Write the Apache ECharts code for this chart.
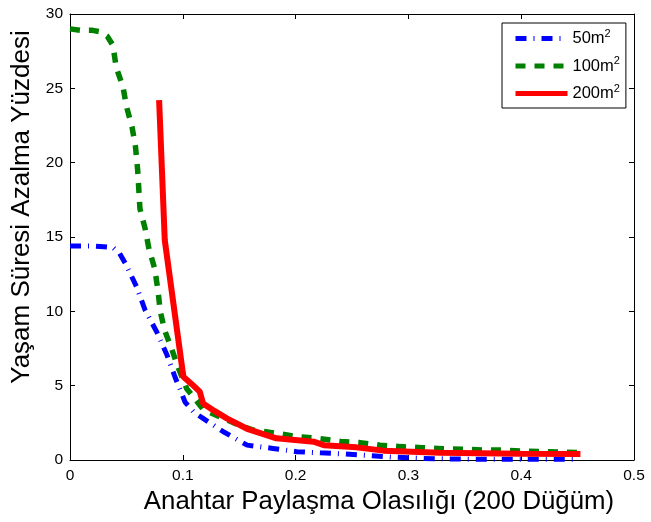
<!DOCTYPE html>
<html>
<head>
<meta charset="utf-8">
<script src="https://cdn.jsdelivr.net/npm/echarts@6/dist/echarts.min.js"></script>
<style>html,body{margin:0;padding:0;background:#fff}#c{width:651px;height:522px}</style>
</head>
<body>
<div id="c"></div>
<script>
var xTicks = [0, 0.1, 0.2, 0.3, 0.4, 0.5];
var yTicks = [0, 5, 10, 15, 20, 25, 30];

var x50 = [0, 0.01, 0.02, 0.03, 0.038, 0.044, 0.05, 0.059, 0.0665, 0.077, 0.086, 0.093, 0.102, 0.11, 0.118, 0.136, 0.157, 0.18, 0.201, 0.222, 0.244, 0.266, 0.29, 0.312, 0.334, 0.36, 0.4, 0.447];
var y50 = [14.4, 14.4, 14.4, 14.35, 14.3, 13.9, 13.1, 11.65, 10.1, 8.6, 7.06, 5.6, 3.9, 3.2, 2.8, 1.9, 1.0, 0.78, 0.56, 0.48, 0.4, 0.29, 0.18, 0.11, 0.07, 0.05, 0.05, 0.05];

var x100 = [0, 0.01, 0.02, 0.027, 0.033, 0.038, 0.041, 0.047, 0.05, 0.055, 0.058, 0.06, 0.062, 0.0665, 0.07, 0.075, 0.078, 0.08, 0.084, 0.09, 0.096, 0.1035, 0.11, 0.118, 0.133, 0.145, 0.163, 0.183, 0.201, 0.219, 0.24, 0.257, 0.275, 0.293, 0.312, 0.33, 0.348, 0.367, 0.384, 0.4, 0.42, 0.45];
var y100 = [29, 28.9, 28.9, 28.8, 28.5, 27.9, 26.4, 25.1, 23.8, 22.4, 21.1, 19.5, 16.9, 15.6, 14.2, 12.9, 11.4, 10.0, 8.7, 7.5, 6.2, 4.8, 4.2, 3.4, 2.9, 2.5, 2.0, 1.8, 1.57, 1.46, 1.25, 1.17, 1.0, 0.9, 0.83, 0.76, 0.72, 0.67, 0.67, 0.6, 0.56, 0.5];

var x200 = [0.079, 0.084, 0.1005, 0.108, 0.115, 0.118, 0.128, 0.139, 0.157, 0.183, 0.216, 0.225, 0.254, 0.278, 0.328, 0.4, 0.4525];
var y200 = [24.2, 14.8, 5.6, 5.1, 4.6, 3.8, 3.3, 2.8, 2.1, 1.46, 1.23, 1.0, 0.85, 0.63, 0.49, 0.42, 0.4];

var names = ['50m{s|2}', '100m{s|2}', '200m{s|2}'];
var seriesNames = ['50m2', '100m2', '200m2'];

function pairs(xs, ys) { return xs.map(function (x, i) { return [x, ys[i]]; }); }

var FONT = 'Liberation Sans, Arial, sans-serif';
var chart = echarts.init(document.getElementById('c'), null, {renderer: 'canvas'});

var axisCommon = {
  axisLine: {show: true, onZero: false, lineStyle: {color: '#000', width: 1}},
  axisTick: {show: true, inside: true, length: 5, lineStyle: {color: '#000'}},
  splitLine: {show: false}
};

chart.setOption({
  animation: false,
  backgroundColor: '#fff',
  grid: {left: 70, right: 17, top: 14, bottom: 62, containLabel: false},
  legend: {
    left: 502, top: 23,
    orient: 'vertical',
    data: seriesNames,
    itemWidth: 52, itemHeight: 14, itemGap: 8.5,
    padding: [5, 6, 6, 11],
    borderColor: '#000', borderWidth: 1, borderRadius: 0,
    backgroundColor: '#fff',
    itemStyle: {opacity: 0},
    lineStyle: {width: 5},
    formatter: function (n) { return names[seriesNames.indexOf(n)]; },
    textStyle: {
      fontFamily: FONT, fontSize: 16.5, color: '#000',
      rich: {s: {fontSize: 11, verticalAlign: 'top', padding: [0, 0, 10, 0], fontFamily: FONT, color: '#000'}}
    }
  },
  xAxis: [
    Object.assign({
      type: 'value', min: 0, max: 0.5, interval: 0.1, position: 'bottom',
      name: 'Anahtar Paylaşma Olasılığı (200 Düğüm)', nameLocation: 'middle', nameGap: 25,
      nameTextStyle: {fontFamily: FONT, fontSize: 25.8, color: '#000', padding: [0, 0, 0, 54]},
      axisLabel: {fontFamily: FONT, fontSize: 15.5, color: '#000', margin: 8,
        formatter: function (v) { var r = Math.round(v * 10) / 10; return xTicks.indexOf(r) >= 0 ? String(r) : ''; }}
    }, axisCommon),
    Object.assign({
      type: 'value', min: 0, max: 0.5, interval: 0.1, position: 'top', axisLabel: {show: false}
    }, axisCommon)
  ],
  yAxis: [
    Object.assign({
      type: 'value', min: 0, max: 30, interval: 5, position: 'left',
      name: 'Yaşam Süresi Azalma Yüzdesi', nameLocation: 'middle', nameGap: 26,
      nameTextStyle: {fontFamily: FONT, fontSize: 26, color: '#000', padding: [0, 0, 0, 60]},
      axisLabel: {fontFamily: FONT, fontSize: 15.5, color: '#000', margin: 7,
        formatter: function (v) { return yTicks.indexOf(v) >= 0 ? String(v) : ''; }}
    }, axisCommon),
    Object.assign({
      type: 'value', min: 0, max: 30, interval: 5, position: 'right', axisLabel: {show: false}
    }, axisCommon)
  ],
  series: [
    {name: seriesNames[0], type: 'line', data: pairs(x50, y50), symbol: 'none', z: 3,
      lineStyle: {color: '#0000ff', width: 5, type: [11, 7, 1, 7], cap: 'butt'}, itemStyle: {color: '#0000ff'}},
    {name: seriesNames[1], type: 'line', data: pairs(x100, y100), symbol: 'none', z: 2,
      lineStyle: {color: '#008000', width: 5.5, type: [10, 9], cap: 'butt'}, itemStyle: {color: '#008000'}},
    {name: seriesNames[2], type: 'line', data: pairs(x200, y200), symbol: 'none', z: 4,
      lineStyle: {color: '#ff0000', width: 6, type: 'solid'}, itemStyle: {color: '#ff0000'}}
  ]
});
</script>
</body>
</html>
